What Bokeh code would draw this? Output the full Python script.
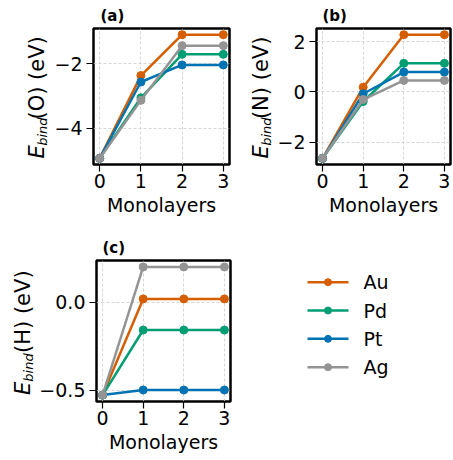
import math
from bokeh.plotting import figure
from bokeh.layouts import column, row
from bokeh.models import FixedTicker, Range1d
from bokeh.core.properties import value
from bokeh.embed import file_html
from bokeh.resources import INLINE

# ---------------- data ----------------
monolayers = [0, 1, 2, 3]
metals = ["Au", "Pd", "Pt", "Ag"]
colors = ["#D55E00", "#029E73", "#0173B2", "#949494"]

# E_bind(O)
O_Au = [-4.94, -2.37, -1.10, -1.10]
O_Pd = [-4.94, -3.06, -1.71, -1.71]
O_Pt = [-4.94, -2.57, -2.04, -2.04]
O_Ag = [-4.94, -3.14, -1.44, -1.44]
# E_bind(N)
N_Au = [-2.64, 0.19, 2.28, 2.28]
N_Pd = [-2.64, -0.38, 1.14, 1.14]
N_Pt = [-2.64, -0.07, 0.79, 0.79]
N_Ag = [-2.64, -0.30, 0.46, 0.46]
# E_bind(H)
H_Au = [-0.527, 0.02, 0.02, 0.02]
H_Pd = [-0.527, -0.157, -0.157, -0.157]
H_Pt = [-0.527, -0.498, -0.498, -0.498]
H_Ag = [-0.527, 0.202, 0.202, 0.202]

O_ticks = [-4, -2]
O_tick_labels = ["\u22124", "\u22122"]
N_ticks = [-2, 0, 2]
N_tick_labels = ["\u22122", "0", "2"]
H_ticks = [-0.5, 0.0]
H_tick_labels = ["\u22120.5", "0.0"]
x_label = "Monolayers"

FONT = "DejaVu Sans"
FRAME_H = 141
ROW_H = 230


def blank(width):
    """Figure without axes; its frame lines up with the row's panel frame,
    so the y range is given in pixels measured from that frame's bottom."""
    s = figure(width=width, height=ROW_H, output_backend="svg", toolbar_location=None,
               x_range=Range1d(0, width), y_range=Range1d(0, FRAME_H),
               x_axis_location=None, y_axis_location=None, min_border=0, title=None)
    s.outline_line_color = None
    s.grid.visible = False
    s.background_fill_color = "white"
    s.border_fill_color = "white"
    return s


def strip(width, element, x_base):
    """Narrow figure that carries the rotated y-axis label E_bind(X) (eV)."""
    s = blank(width)
    big, small = 21, 13
    e_adv = 0.632 * big
    sub_adv = 2.182 * small
    rest_adv = 3.964 * big
    total = e_adv + sub_adv + rest_adv
    start = FRAME_H / 2 - total / 2 - 1.5
    mid_big = 0.346 * big      # baseline -> middle distance
    mid_small = 0.346 * small
    common = dict(angle=math.pi / 2, text_align=value("center"),
                  text_baseline=value("middle"), text_font=value(FONT),
                  text_color="black")
    s.text(x=[x_base - mid_big], y=[start + e_adv / 2], text=["E"],
           text_font_size=value(f"{big}px"), text_font_style=value("italic"), **common)
    s.text(x=[x_base + 3.0 - mid_small], y=[start + e_adv + sub_adv / 2], text=["bind"],
           text_font_size=value(f"{small}px"), text_font_style=value("italic"), **common)
    s.text(x=[x_base - mid_big], y=[start + e_adv + sub_adv + rest_adv / 2],
           text=[f"({element}) (eV)"], text_font_size=value(f"{big}px"),
           text_font_style=value("normal"), **common)
    return s


def panel(series, ticks, tick_labels, tag, width, lb, rb, tb, bb, tag_offset):
    allv = [v for s in series for v in s]
    lo, hi = min(allv), max(allv)
    pad = 0.05 * (hi - lo)
    xlo, xhi = min(monolayers), max(monolayers)
    xpad = 0.05 * (xhi - xlo)
    p = figure(width=width, height=ROW_H, output_backend="svg",
               toolbar_location=None, title=tag,
               x_range=Range1d(xlo - xpad, xhi + xpad),
               y_range=Range1d(lo - pad, hi + pad),
               min_border_left=lb, min_border_right=rb,
               min_border_top=tb, min_border_bottom=bb)
    p.background_fill_color = "white"
    p.border_fill_color = "white"
    p.outline_line_color = "black"
    p.outline_line_width = 2.5

    p.title.text_font = FONT
    p.title.text_font_size = "15px"
    p.title.text_font_style = "bold"
    p.title.text_color = "black"
    p.title.align = "left"
    p.title.offset = tag_offset
    p.title.standoff = 8

    p.xaxis.ticker = FixedTicker(ticks=monolayers)
    p.yaxis.ticker = FixedTicker(ticks=ticks)
    p.yaxis.major_label_overrides = {t: l for t, l in zip(ticks, tick_labels)}
    for ax in p.axis:
        ax.axis_line_color = None
        ax.major_tick_out = 7
        ax.major_tick_in = 0
        ax.major_tick_line_width = 1.2
        ax.major_tick_line_color = "black"
        ax.minor_tick_line_color = None
        ax.major_label_text_font = FONT
        ax.major_label_text_font_size = "19px"
        ax.major_label_text_color = "black"
    p.xaxis.major_label_standoff = 2
    p.yaxis.major_label_standoff = 4
    p.xaxis.axis_label = x_label
    p.xaxis.axis_label_text_font = FONT
    p.xaxis.axis_label_text_font_size = "19px"
    p.xaxis.axis_label_text_font_style = "normal"
    p.xaxis.axis_label_text_color = "black"
    p.xaxis.axis_label_standoff = 3

    p.grid.grid_line_color = "#cccccc"
    p.grid.grid_line_dash = "3 2"
    p.grid.grid_line_width = 0.8

    for vals, c in zip(series, colors):
        p.line(monolayers, vals, line_color=c, line_width=2.5)
        p.scatter(monolayers, vals, size=8, fill_color=c, line_color=c)
    return p


# row 1: strip(50) + panel a(182) + strip(42) + panel b(179) = 453
sa = strip(50, "O", 43.6)
pa = panel([O_Au, O_Pd, O_Pt, O_Ag], O_ticks, O_tick_labels, "(a)",
           182, 43, 3, 23, 66, 7)
sb = strip(42, "N", 35.8)
pb = panel([N_Au, N_Pd, N_Pt, N_Ag], N_ticks, N_tick_labels, "(b)",
           179, 42, 3, 23, 66, 6)
# row 2: strip(36) + panel c(203) + legend area(214) = 453
sc = strip(36, "H", 29.9)
pc = panel([H_Au, H_Pd, H_Pt, H_Ag], H_ticks, H_tick_labels, "(c)",
           203, 58, 9, 30, 59, 6)

# legend area (pixels from the bottom of panel c's frame)
pd_ = blank(214)
LEG_X0, LEG_W, LEG_TOP, LEG_PITCH, LEG_GAP = 68, 41, 119.3, 28.33, 15
for i, (m, c) in enumerate(zip(metals, colors)):
    yy = LEG_TOP - i * LEG_PITCH
    pd_.line(x=[LEG_X0, LEG_X0 + LEG_W], y=[yy, yy], line_color=c, line_width=2.5)
    pd_.scatter(x=[LEG_X0 + LEG_W / 2], y=[yy], size=7, fill_color=c, line_color=c)
    pd_.text(x=[LEG_X0 + LEG_W + LEG_GAP], y=[yy], text=[m],
             text_font=value(FONT), text_font_size=value("19px"),
             text_align=value("left"), text_baseline=value("middle"),
             text_color="black")

layout = column(row(sa, pa, sb, pb), row(sc, pc, pd_))
open("out.html", "w").write(file_html(layout, INLINE))
